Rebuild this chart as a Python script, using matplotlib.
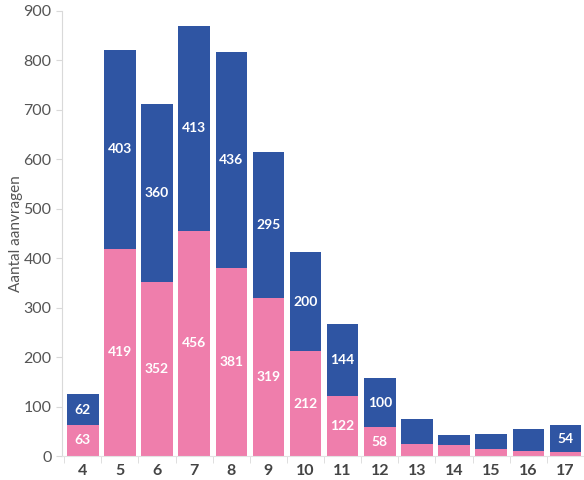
import numpy as np
import matplotlib
matplotlib.use('Agg')
import matplotlib.pyplot as plt

# data
leeftijd = [4, 5, 6, 7, 8, 9, 10, 11, 12, 13, 14, 15, 16, 17]
roze = [63, 419, 352, 456, 381, 319, 212, 122, 58, 25, 22, 14, 10, 8]
blauw = [62, 403, 360, 413, 436, 295, 200, 144, 100, 49, 21, 30, 44, 54]

kleur_roze = '#ef7eac'
kleur_blauw = '#2f55a3'

plt.rcParams['font.family'] = ['Lato', 'DejaVu Sans']

fig = plt.figure(figsize=(5.84, 4.8), dpi=100)
ax = fig.add_axes([62 / 584, 1 - 456 / 480, 1 - 62 / 584, (456 - 11) / 480])

x = np.array(leeftijd)
ax.bar(x, roze, width=0.85, color=kleur_roze)
ax.bar(x, blauw, width=0.85, bottom=roze, color=kleur_blauw)

# labels in de segmenten (alleen als ze groot genoeg zijn)
for xi, r, b in zip(x, roze, blauw):
    if r >= 50:
        ax.text(xi, r / 2, str(r), ha='center', va='center', color='white',
                fontsize=10, fontweight='bold')
    if b >= 50:
        ax.text(xi, r + b / 2, str(b), ha='center', va='center', color='white',
                fontsize=10, fontweight='bold')

ax.set_xlim(3.44, 17.33)
ax.set_ylim(0, 900)
ax.set_yticks(range(0, 901, 100))
ax.set_xticks(x)
ax.set_xticks(np.arange(3.5, 17.6, 1), minor=True)

for s in ['top', 'right']:
    ax.spines[s].set_visible(False)
ax.spines['left'].set_color('#d9d9d9')
ax.spines['bottom'].set_color('#e3e3e3')

ax.tick_params(axis='y', colors='#d9d9d9', labelcolor='#555555', labelsize=11.5, length=4)
ax.tick_params(axis='x', which='major', length=0, pad=6, labelcolor='#444444', labelsize=11.5)
ax.tick_params(axis='x', which='minor', length=5, color='#d9d9d9')
for lbl in ax.get_xticklabels():
    lbl.set_fontweight('bold')

ax.set_ylabel('Aantal aanvragen', fontsize=11, color='#555555')
ax.yaxis.set_label_coords(-0.075, 0.5)

plt.savefig('out.png', dpi=100)
